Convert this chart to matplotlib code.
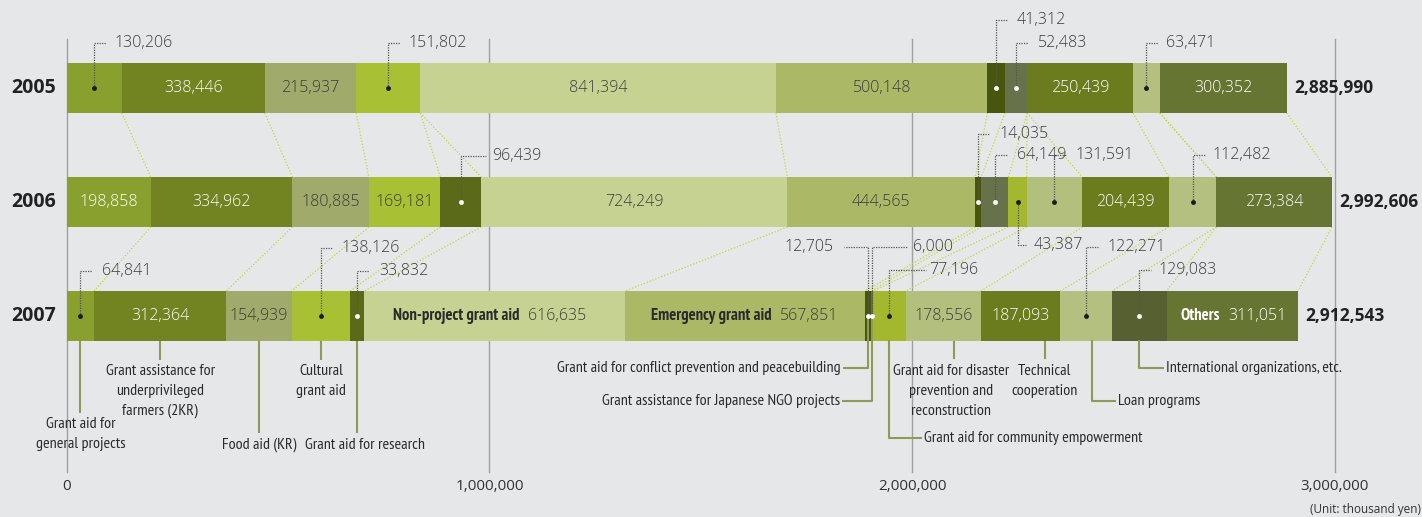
import numpy as np
import matplotlib.pyplot as plt

# ---- data (thousand yen) ----
years = ['2005', '2006', '2007']
categories = ['Grant aid for\ngeneral projects',
              'Grant assistance for\nunderprivileged\nfarmers (2KR)',
              'Food aid (KR)',
              'Cultural\ngrant aid',
              'Grant aid for research',
              'Non-project grant aid',
              'Emergency grant aid',
              'Grant aid for conflict prevention and peacebuilding',
              'Grant assistance for Japanese NGO projects',
              'Grant aid for community empowerment',
              'Grant aid for disaster\nprevention and\nreconstruction',
              'Technical\ncooperation',
              'Loan programs',
              'International organizations, etc.',
              'Others']
v2005 = [130206, 338446, 215937, 151802, 0, 841394, 500148, 41312, 52483, 0, 0, 250439, 63471, 0, 300352]
v2006 = [198858, 334962, 180885, 169181, 96439, 724249, 444565, 14035, 64149, 43387, 131591, 204439, 112482, 0, 273384]
v2007 = [64841, 312364, 154939, 138126, 33832, 616635, 567851, 12705, 6000, 77196, 178556, 187093, 122271, 129083, 311051]
values = [v2005, v2006, v2007]

colors = ['#8aa02e', '#718421', '#a0aa6a', '#a8c033', '#5a6a18', '#c5d292', '#abb866',
          '#47560c', '#68724a', '#a3b82e', '#b2bf7d', '#6a7c1e', '#b3c07f', '#566030', '#667532']
dark_text = {1, 11, 14, 13}          # segments with white value text
white_dot = {4, 7, 8, 13}            # callout dots drawn white

BG = '#e6e7e9'
VALFONT = ['Open Sans', 'DejaVu Sans']
NARROW = ['PT Sans Narrow', 'Roboto Condensed', 'Archivo Narrow', 'Asap Condensed', 'DejaVu Sans']

W, H = 1422, 517
X0, X3 = 66.7, 1335.0                 # pixel of 0 and 3,000,000
PX = 3e6 / (X3 - X0)                  # data units per pixel

fig = plt.figure(figsize=(W / 100, H / 100), dpi=100, facecolor=BG)
ax = fig.add_axes([0, 0, 1, 1])
ax.set_facecolor(BG)
ax.set_xlim(-X0 * PX, (W - X0) * PX)
ax.set_ylim(H, 0)
ax.axis('off')

ycent = [88, 202, 316]
bh = 50

# grid
for g in [0, 1e6, 2e6, 3e6]:
    ax.plot([g, g], [39, 472], color='#a0a0a0', lw=1, zorder=0)
    ax.text(g, 486, f'{int(g):,}', ha='center', va='center', fontsize=11,
            color='#333333', family=VALFONT)
ax.text((1421 - X0) * PX, 509, '(Unit: thousand yen)', ha='right', va='center',
        fontsize=8.5, color='#333333', family=VALFONT)

# bars
lefts = []
for i, vals in enumerate(values):
    left = np.concatenate([[0], np.cumsum(vals)[:-1]])
    lefts.append(left)
    ax.barh(ycent[i], vals, left=left, height=bh, color=colors, linewidth=0, zorder=2)
    ax.text(-11 * PX, ycent[i], years[i], ha='right', va='center', fontsize=14,
            fontweight='bold', color='#222222', family=VALFONT)
    ax.text(sum(vals) + 7 * PX, ycent[i], f'{sum(vals):,}', ha='left', va='center',
            fontsize=12.5, fontweight='bold', color='#222222', family=VALFONT)

# connector lines between bars
for i in range(2):
    ends_a = np.cumsum(values[i])
    ends_b = np.cumsum(values[i + 1])
    for a, b in zip(ends_a, ends_b):
        ax.plot([a, b], [ycent[i] + bh / 2, ycent[i + 1] - bh / 2], color='#c3d640',
                lw=0.9, ls=(0, (1, 1.5)), zorder=1)

# callouts: (category, leader top y, horizontal px, text gap px)
callouts = {
    0: [(0, 43, 12, 20), (3, 43, 12, 20), (7, 20, 12, 20), (8, 43, 12, 22), (12, 43, 12, 20)],
    1: [(4, 156, 25, 31), (7, 134, 12, 21), (8, 155, 12, 22), (9, 245, 8, 16),
        (10, 155, 12, 21), (12, 155, 12, 20)],
    2: [(0, 271, 12, 22), (3, 248, 12, 21), (4, 271, 12, 22), (7, 247, -24, -34),
        (8, 247, 35, 41), (9, 270, 37, 40), (12, 247, 12, 21), (13, 270, 12, 19)],
}
named = {5: 29, 6: 31, 14: -8}       # 2007 segments with name inside (split offset px)

for i, vals in enumerate(values):
    small = {c[0] for c in callouts[i]}
    for k, v in enumerate(vals):
        if v == 0 or k in small:
            continue
        cx = lefts[i][k] + v / 2
        col = 'white' if (k in dark_text or (i == 1 and k == 0)) else '#3c3c3c'
        if i == 2 and k in named:
            sx = cx + named[k] * PX
            ax.text(sx - 4 * PX, ycent[i], categories[k], ha='right', va='center',
                    fontsize=12, fontweight='bold',
                    color='#2a2a2a' if col != 'white' else 'white',
                    family=NARROW, zorder=3)
            ax.text(sx + 4 * PX, ycent[i], f'{v:,}', ha='left', va='center', fontsize=11.5,
                    color=col, family=VALFONT, fontweight='light', zorder=3)
        else:
            ax.text(cx, ycent[i], f'{v:,}', ha='center', va='center', fontsize=11.5,
                    color=col, family=VALFONT, fontweight='light', zorder=3)

for i, items in callouts.items():
    for k, ty, hl, tg in items:
        cx = lefts[i][k] + values[i][k] / 2
        dc = 'white' if k in white_dot else '#1a1a1a'
        ax.plot([cx, cx, cx + hl * PX], [ycent[i], ty, ty], color='#555555', lw=0.9,
                ls=(0, (1, 1)), zorder=4)
        ax.plot(cx, ycent[i], 'o', ms=3.5, color=dc, mec='none', zorder=5)
        ax.text(cx + tg * PX, ty, f'{values[i][k]:,}', ha='left' if tg > 0 else 'right',
                va='center', fontsize=11.5, color='#3c3c3c', family=VALFONT,
                fontweight='light', zorder=5)

# category labels below 2007 bar
# (category, line end y, horizontal px, text y, alignment, x shift px, start inside bar)
lab = [(0, 412, 0, 434, 'center', 0, False), (1, 359, 0, 391, 'center', 0, False),
       (2, 432, 0, 445, 'center', 0, False), (3, 359, 0, 381, 'center', 0, False),
       (4, 432, 0, 445, 'center', 0, False), (7, 368, -24, 368, 'right', 0, True),
       (8, 401, -29, 401, 'right', 0, True), (9, 438, 32, 438, 'left', 0, False),
       (10, 358, 0, 391, 'center', 11, False), (11, 358, 0, 381, 'center', 24, False),
       (12, 401, 23, 401, 'left', 6, False), (13, 368, 24, 368, 'left', 0, False)]
lc = '#8f9a5a'
bot = ycent[2] + bh / 2
for k, ly, hx, ty, al, sh, inside in lab:
    cx = lefts[2][k] + v2007[k] / 2 + sh * PX
    if hx == 0:
        ax.plot([cx, cx], [bot, ly], color=lc, lw=1.5, zorder=1)
        tx = cx + (8 * PX if k == 4 else 0) - (3 * PX if k == 10 else 0)
        ax.text(tx, ty, categories[k], ha='center', va='center', fontsize=11.5,
                color='#2a2a2a', family=NARROW, linespacing=1.55)
    else:
        y0 = ycent[2] if inside else bot
        ax.plot([cx, cx, cx + hx * PX], [y0, ly, ly], color=lc, lw=1.5, zorder=3)
        tx = cx + (hx + (3 if hx > 0 else -3)) * PX
        ax.text(tx, ly, categories[k], ha=al, va='center', fontsize=11.5,
                color='#2a2a2a', family=NARROW)

plt.savefig('out.png', dpi=100, facecolor=BG)
